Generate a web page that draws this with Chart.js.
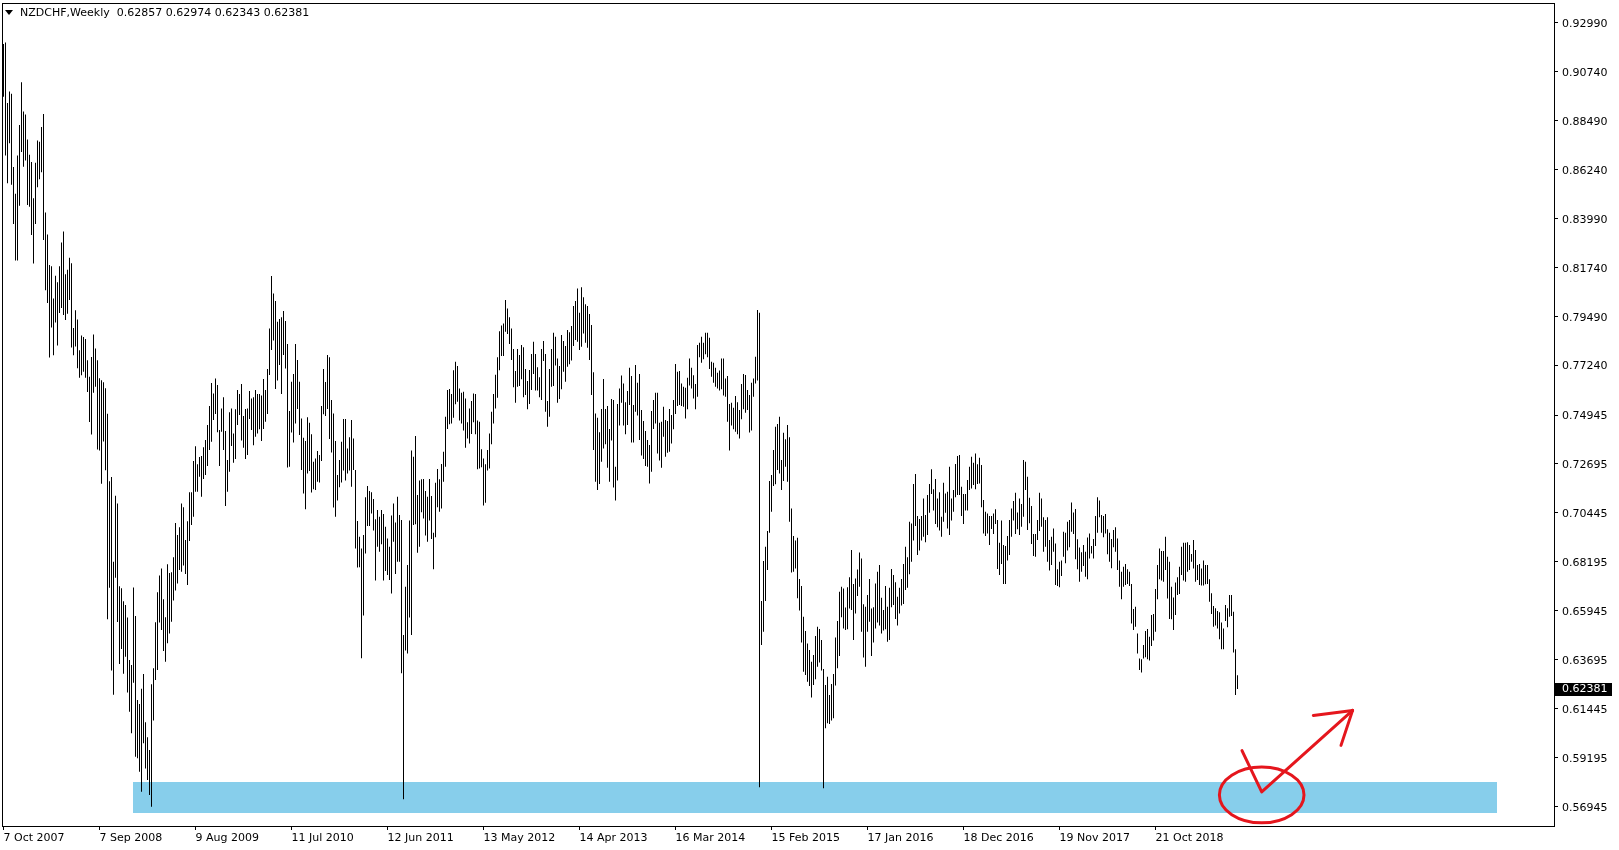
<!DOCTYPE html>
<html><head><meta charset="utf-8">
<script src="https://cdn.jsdelivr.net/npm/chart.js@4.4.1/dist/chart.umd.min.js"></script>
<style>html,body{margin:0;padding:0;background:#fff;}#c{display:block;}</style>
</head><body>
<canvas id="c" width="1619" height="850"></canvas>
<script>
const headerTitle = "NZDCHF,Weekly";
const lastBarOHLC = [0.62857, 0.62974, 0.62343, 0.62381];

const highs = [
0.9201,0.9208,0.8930,0.8983,0.8972,0.8635,0.8512,0.8688,0.8829,0.9025,
0.8891,0.8877,0.8762,0.8692,0.8658,0.8491,0.8655,0.8757,0.8752,0.8819,
0.8879,0.8426,0.8325,0.8184,0.8179,0.8031,0.8135,0.8105,0.8179,0.8288,
0.8339,0.8142,0.8163,0.8218,0.8193,0.7895,0.7976,0.7934,0.7793,0.7860,
0.7853,0.7844,0.7747,0.7671,0.7761,0.7865,0.7800,0.7747,0.7664,0.7655,
0.7645,0.7618,0.7500,0.7190,0.7209,0.6820,0.7123,0.7088,0.6707,0.6698,
0.6638,0.6621,0.6563,0.6368,0.6345,0.6701,0.6570,0.6184,0.6165,0.6235,
0.6303,0.6081,0.6012,0.5954,0.6256,0.6330,0.6541,0.6679,0.6757,0.6789,
0.6647,0.6564,0.6808,0.6768,0.6771,0.6840,0.6998,0.6943,0.6978,0.7088,
0.7070,0.6920,0.7006,0.7139,0.7139,0.7283,0.7351,0.7268,0.7301,0.7306,
0.7346,0.7380,0.7449,0.7536,0.7642,0.7594,0.7663,0.7633,0.7426,0.7525,
0.7576,0.7421,0.7288,0.7507,0.7525,0.7410,0.7521,0.7610,0.7591,0.7637,
0.7490,0.7522,0.7525,0.7605,0.7571,0.7576,0.7610,0.7591,0.7591,0.7584,
0.7660,0.7610,0.7706,0.7893,0.8134,0.8054,0.8019,0.7924,0.7936,0.7944,
0.7973,0.7927,0.7821,0.7513,0.7648,0.7683,0.7821,0.7748,0.7648,0.7479,
0.7390,0.7375,0.7484,0.7459,0.7406,0.7280,0.7295,0.7329,0.7311,0.7536,
0.7706,0.7646,0.7771,0.7760,0.7564,0.7502,0.7375,0.7219,0.7288,0.7372,
0.7476,0.7476,0.7341,0.7392,0.7472,0.7387,0.7242,0.7007,0.6935,0.6881,
0.6943,0.7116,0.7168,0.7145,0.7139,0.7108,0.7015,0.7058,0.7027,0.7058,
0.7039,0.6981,0.6927,0.6889,0.7032,0.7088,0.7000,0.7119,0.7035,0.7012,
0.6483,0.6705,0.6805,0.7009,0.7331,0.7303,0.7398,0.7127,0.7193,0.7199,
0.7200,0.7145,0.7119,0.7200,0.7122,0.6953,0.7183,0.7246,0.7199,0.7269,
0.7326,0.7487,0.7610,0.7614,0.7591,0.7700,0.7740,0.7720,0.7617,0.7597,
0.7602,0.7571,0.7461,0.7525,0.7559,0.7594,0.7591,0.7469,0.7464,0.7337,
0.7295,0.7268,0.7334,0.7410,0.7510,0.7591,0.7680,0.7760,0.7880,0.7906,
0.7916,0.8024,0.7985,0.7944,0.7893,0.7798,0.7697,0.7798,0.7771,0.7817,
0.7806,0.7706,0.7651,0.7702,0.7775,0.7832,0.7775,0.7714,0.7668,0.7798,
0.7835,0.7775,0.7559,0.7706,0.7798,0.7873,0.7855,0.7755,0.7720,0.7863,
0.7835,0.7812,0.7886,0.7875,0.7904,0.7996,0.8019,0.8077,0.7965,0.8082,
0.8036,0.8004,0.7996,0.7959,0.7909,0.7691,0.7502,0.7482,0.7415,0.7522,
0.7660,0.7522,0.7536,0.7430,0.7568,0.7564,0.7257,0.7545,0.7617,0.7676,
0.7640,0.7553,0.7605,0.7712,0.7674,0.7541,0.7725,0.7643,0.7683,0.7518,
0.7467,0.7421,0.7380,0.7357,0.7513,0.7564,0.7597,0.7597,0.7459,0.7464,
0.7533,0.7472,0.7467,0.7522,0.7495,0.7564,0.7729,0.7694,0.7697,0.7640,
0.7625,0.7620,0.7666,0.7755,0.7712,0.7678,0.7637,0.7817,0.7827,0.7855,
0.7827,0.7873,0.7873,0.7850,0.7740,0.7735,0.7712,0.7689,0.7699,0.7755,
0.7755,0.7663,0.7674,0.7545,0.7551,0.7528,0.7582,0.7553,0.7518,0.7637,
0.7683,0.7679,0.7610,0.7587,0.7643,0.7663,0.7763,0.7978,0.7965,0.6639,
0.6823,0.6889,0.6961,0.7191,0.7219,0.7334,0.7441,0.7453,0.7487,0.7288,
0.7413,0.7383,0.7449,0.7392,0.7065,0.6938,0.6917,0.6930,0.6740,0.6708,
0.6567,0.6501,0.6444,0.6414,0.6360,0.6391,0.6478,0.6521,0.6510,0.6460,
0.6326,0.6253,0.6291,0.6207,0.6257,0.6303,0.6471,0.6547,0.6682,0.6705,
0.6697,0.6609,0.6702,0.6748,0.6874,0.6717,0.6743,0.6784,0.6862,0.6835,
0.6624,0.6613,0.6667,0.6740,0.6605,0.6610,0.6720,0.6774,0.6805,0.6654,
0.6598,0.6708,0.6613,0.6700,0.6786,0.6759,0.6725,0.6659,0.6700,0.6740,
0.6809,0.6889,0.6840,0.7004,0.6996,0.7177,0.7223,0.7030,0.7016,0.7030,
0.7111,0.7035,0.7127,0.7177,0.7245,0.7153,0.7200,0.7111,0.7139,0.7027,
0.7183,0.7134,0.7142,0.7257,0.7111,0.7150,0.7269,0.7306,0.7311,0.7165,
0.7131,0.7131,0.7196,0.7257,0.7303,0.7275,0.7318,0.7268,0.7298,0.7265,
0.7104,0.7050,0.7042,0.7030,0.7030,0.7042,0.7061,0.7012,0.6907,0.7009,
0.6897,0.6892,0.6938,0.7012,0.7065,0.7099,0.7137,0.7046,0.7111,0.7085,
0.7288,0.7280,0.7211,0.7114,0.7076,0.6947,0.6947,0.7012,0.7137,0.7111,
0.7024,0.7012,0.7024,0.6920,0.6935,0.6973,0.6904,0.6785,0.6820,0.6825,
0.6958,0.6953,0.7004,0.7012,0.7092,0.7046,0.7062,0.6923,0.6885,0.6863,
0.6897,0.6866,0.6931,0.6950,0.6892,0.6924,0.7030,0.7116,0.7101,0.7035,
0.7030,0.7039,0.6969,0.6953,0.6924,0.6966,0.6978,0.6927,0.6825,0.6774,
0.6797,0.6809,0.6785,0.6774,0.6717,0.6602,0.6613,0.6490,0.6375,0.6371,
0.6437,0.6501,0.6510,0.6475,0.6575,0.6579,0.6694,0.6805,0.6881,0.6869,
0.6869,0.6935,0.6843,0.6820,0.6705,0.6655,0.6724,0.6748,0.6797,0.6889,
0.6907,0.6907,0.6909,0.6897,0.6855,0.6920,0.6874,0.6805,0.6809,0.6789,
0.6825,0.6805,0.6805,0.6739,0.6675,0.6616,0.6606,0.6593,0.6587,0.6540,
0.6513,0.6621,0.6606,0.6667,0.6667,0.6590,0.6417,0.62974
];

const lows = [
0.8958,0.8688,0.8561,0.8745,0.8554,0.8373,0.8205,0.8205,0.8457,0.8704,
0.8637,0.8665,0.8461,0.8452,0.8323,0.8191,0.8373,0.8542,0.8579,0.8611,
0.8299,0.8068,0.8010,0.7759,0.7897,0.7770,0.7920,0.7814,0.7964,0.7987,
0.7955,0.7932,0.7960,0.8024,0.7805,0.7770,0.7810,0.7710,0.7666,0.7678,
0.7694,0.7666,0.7601,0.7463,0.7405,0.7597,0.7625,0.7336,0.7331,0.7179,
0.7373,0.7241,0.6555,0.6700,0.6319,0.6208,0.6746,0.6543,0.6349,0.6418,
0.6305,0.6383,0.6218,0.6130,0.6031,0.6263,0.5923,0.5916,0.5854,0.5762,
0.5985,0.5869,0.5816,0.5747,0.5693,0.6089,0.6276,0.6322,0.6540,0.6506,
0.6409,0.6360,0.6445,0.6490,0.6544,0.6641,0.6687,0.6720,0.6782,0.6774,
0.6802,0.6763,0.6713,0.6915,0.6989,0.7027,0.7142,0.7142,0.7211,0.7119,
0.7200,0.7219,0.7260,0.7334,0.7372,0.7472,0.7499,0.7415,0.7260,0.7418,
0.7334,0.7076,0.7142,0.7234,0.7352,0.7275,0.7292,0.7449,0.7495,0.7377,
0.7344,0.7292,0.7311,0.7476,0.7426,0.7355,0.7395,0.7410,0.7429,0.7375,
0.7430,0.7464,0.7499,0.7679,0.7794,0.7837,0.7614,0.7653,0.7725,0.7591,
0.7771,0.7709,0.7253,0.7257,0.7414,0.7368,0.7456,0.7522,0.7403,0.7242,
0.7134,0.7061,0.7226,0.7237,0.7138,0.7153,0.7150,0.7188,0.7184,0.7283,
0.7498,0.7490,0.7522,0.7384,0.7322,0.7069,0.7027,0.7101,0.7162,0.7184,
0.7239,0.7193,0.7226,0.7239,0.7165,0.7242,0.6881,0.6793,0.6794,0.6376,
0.6572,0.6858,0.6984,0.6984,0.7042,0.6963,0.6733,0.6889,0.6866,0.6900,
0.6733,0.6777,0.6759,0.6736,0.6674,0.6912,0.6763,0.6820,0.6820,0.6307,
0.5727,0.6411,0.6398,0.6563,0.6483,0.6989,0.6992,0.6861,0.6889,0.7047,
0.7019,0.6940,0.6912,0.7009,0.6924,0.6785,0.6932,0.7070,0.7050,0.7065,
0.7188,0.7257,0.7430,0.7452,0.7456,0.7482,0.7544,0.7556,0.7469,0.7456,
0.7423,0.7344,0.7387,0.7364,0.7407,0.7461,0.7406,0.7245,0.7249,0.7254,
0.7078,0.7091,0.7239,0.7249,0.7360,0.7456,0.7525,0.7574,0.7700,0.7766,
0.7766,0.7878,0.7867,0.7821,0.7748,0.7622,0.7551,0.7625,0.7628,0.7659,
0.7576,0.7587,0.7521,0.7545,0.7610,0.7683,0.7607,0.7607,0.7576,0.7564,
0.7743,0.7510,0.7441,0.7487,0.7625,0.7628,0.7722,0.7551,0.7568,0.7613,
0.7694,0.7648,0.7717,0.7728,0.7745,0.7812,0.7840,0.7832,0.7794,0.7809,
0.7870,0.7827,0.7804,0.7748,0.7587,0.7334,0.7188,0.7150,0.7177,0.7280,
0.7341,0.7360,0.7252,0.7188,0.7377,0.7161,0.7101,0.7193,0.7446,0.7551,
0.7446,0.7406,0.7449,0.7541,0.7368,0.7368,0.7510,0.7492,0.7380,0.7308,
0.7292,0.7260,0.7257,0.7180,0.7234,0.7430,0.7456,0.7318,0.7285,0.7252,
0.7395,0.7303,0.7321,0.7326,0.7364,0.7429,0.7499,0.7536,0.7541,0.7536,
0.7533,0.7479,0.7521,0.7630,0.7617,0.7571,0.7521,0.7579,0.7760,0.7735,
0.7751,0.7774,0.7760,0.7706,0.7671,0.7643,0.7625,0.7617,0.7607,0.7613,
0.7584,0.7579,0.7464,0.7331,0.7446,0.7429,0.7418,0.7406,0.7387,0.7475,
0.7521,0.7505,0.7518,0.7414,0.7423,0.7579,0.7640,0.7653,0.5782,0.6437,
0.6498,0.6639,0.6782,0.6953,0.7050,0.7168,0.7176,0.7242,0.7226,0.7150,
0.7191,0.7257,0.7188,0.7004,0.6770,0.6774,0.6789,0.6652,0.6595,0.6448,
0.6314,0.6299,0.6268,0.6248,0.6195,0.6253,0.6279,0.6337,0.6356,0.6319,
0.5778,0.6054,0.6077,0.6074,0.6089,0.6100,0.6250,0.6330,0.6386,0.6564,
0.6513,0.6506,0.6509,0.6605,0.6598,0.6460,0.6582,0.6662,0.6705,0.6498,
0.6379,0.6337,0.6498,0.6544,0.6386,0.6448,0.6513,0.6540,0.6526,0.6490,
0.6503,0.6509,0.6452,0.6460,0.6610,0.6621,0.6556,0.6526,0.6582,0.6618,
0.6625,0.6690,0.6700,0.6762,0.6820,0.6917,0.6984,0.6851,0.6871,0.6917,
0.6935,0.6909,0.6943,0.7045,0.7131,0.7055,0.6993,0.6978,0.6963,0.6935,
0.7004,0.7045,0.6973,0.6943,0.7009,0.7050,0.7116,0.7127,0.7127,0.7030,
0.6993,0.7055,0.7055,0.7150,0.7157,0.7173,0.7153,0.7177,0.7180,0.7070,
0.6950,0.6938,0.6950,0.6897,0.6970,0.6947,0.6993,0.6786,0.6759,0.6809,
0.6717,0.6717,0.6825,0.6851,0.6935,0.7009,0.6947,0.6969,0.6943,0.6981,
0.7027,0.7150,0.6966,0.6997,0.6901,0.6846,0.6843,0.6920,0.6961,0.6981,
0.6866,0.6889,0.6820,0.6779,0.6805,0.6866,0.6713,0.6708,0.6702,0.6754,
0.6843,0.6813,0.6871,0.6886,0.6958,0.6947,0.6831,0.6785,0.6728,0.6774,
0.6800,0.6751,0.6739,0.6835,0.6858,0.6835,0.6892,0.6953,0.7024,0.6953,
0.6932,0.6950,0.6854,0.6820,0.6790,0.6886,0.6866,0.6782,0.6705,0.6647,
0.6705,0.6713,0.6717,0.6708,0.6536,0.6506,0.6521,0.6398,0.6322,0.6310,
0.6375,0.6380,0.6371,0.6365,0.6432,0.6457,0.6498,0.6647,0.6739,0.6733,
0.6728,0.6782,0.6651,0.6556,0.6555,0.6506,0.6575,0.6667,0.6671,0.6759,
0.6733,0.6728,0.6774,0.6782,0.6820,0.6789,0.6728,0.6736,0.6713,0.6710,
0.6710,0.6716,0.6717,0.6636,0.6579,0.6521,0.6526,0.6513,0.6463,0.6417,
0.6417,0.6547,0.6518,0.6567,0.6570,0.6402,0.6207,0.62343
];

const xTickIndices = [0,48,96,144,192,240,288,336,384,432,480,528,576];
const xTickLabels = ["7 Oct 2007","7 Sep 2008","9 Aug 2009","11 Jul 2010","12 Jun 2011","13 May 2012","14 Apr 2013","16 Mar 2014","15 Feb 2015","17 Jan 2016","18 Dec 2016","19 Nov 2017","21 Oct 2018"];
const yTickLabels = ["0.92990","0.90740","0.88490","0.86240","0.83990","0.81740","0.79490","0.77240","0.74945","0.72695","0.70445","0.68195","0.65945","0.63695","0.61445","0.59195","0.56945"];

// support zone (bar index range, price range)
const zoneX = [64.85, 746.8];
const zoneY = [0.5666, 0.58085];
// red ellipse: centre (bar index, price), radii (bars, price)
const ringCentre = [629.1, 0.5747];
const ringRadius = [21.15, 0.01283];
// red hand-drawn arrow: polyline then arrowhead arms from tip
const arrowLine = [[619.25, 0.5951], [629.1, 0.5761], [674.55, 0.6136]];
const arrowArms = [[654.9, 0.6113], [668.75, 0.5975]];

const FONT = "'DejaVu Sans', Verdana, sans-serif";
const bars = highs.map((h, i) => ({x: i, y: [lows[i], h]}));

const overlay = {
  id: 'overlay',
  beforeDraw(chart) {
    const c = chart.ctx;
    c.save(); c.fillStyle = '#fff'; c.fillRect(0, 0, chart.width, chart.height); c.restore();
  },
  beforeDatasetsDraw(chart) {
    const c = chart.ctx, xs = chart.scales.x, ys = chart.scales.y;
    const x0 = xs.getPixelForValue(zoneX[0]), x1 = xs.getPixelForValue(zoneX[1]);
    const y0 = ys.getPixelForValue(zoneY[1]), y1 = ys.getPixelForValue(zoneY[0]);
    c.save(); c.fillStyle = '#87CEEB'; c.fillRect(Math.round(x0), Math.round(y0), Math.round(x1 - x0), Math.round(y1 - y0)); c.restore();
  },
  afterDraw(chart) {
    const c = chart.ctx, xs = chart.scales.x, ys = chart.scales.y, a = chart.chartArea;
    c.save();
    // frame
    c.strokeStyle = '#000'; c.lineWidth = 1;
    c.strokeRect(Math.round(a.left) + 0.5, Math.round(a.top) + 0.5, Math.round(a.right - a.left), Math.round(a.bottom - a.top));
    // red annotations
    c.strokeStyle = '#e5161d'; c.lineWidth = 3; c.lineJoin = 'round'; c.lineCap = 'round';
    const cx = xs.getPixelForValue(ringCentre[0]), cy = ys.getPixelForValue(ringCentre[1]);
    const rx = Math.abs(xs.getPixelForValue(ringCentre[0] + ringRadius[0]) - cx);
    const ry = Math.abs(ys.getPixelForValue(ringCentre[1] + ringRadius[1]) - cy);
    c.beginPath(); c.ellipse(cx, cy, rx, ry, 0, 0, Math.PI * 2); c.stroke();
    c.beginPath();
    arrowLine.forEach((p, k) => { const px = xs.getPixelForValue(p[0]), py = ys.getPixelForValue(p[1]); k ? c.lineTo(px, py) : c.moveTo(px, py); });
    c.stroke();
    const tip = arrowLine[arrowLine.length - 1];
    const tx = xs.getPixelForValue(tip[0]), ty = ys.getPixelForValue(tip[1]);
    arrowArms.forEach(p => { c.beginPath(); c.moveTo(xs.getPixelForValue(p[0]), ys.getPixelForValue(p[1])); c.lineTo(tx, ty); c.stroke(); });
    // current price label
    const py = Math.round(ys.getPixelForValue(lastBarOHLC[3])) + 1;
    c.fillStyle = '#000'; c.fillRect(Math.round(a.right) + 1, py - 6, 57, 13);
    c.fillStyle = '#fff'; c.font = '11px ' + FONT; c.textBaseline = 'middle'; c.textAlign = 'left';
    c.fillText(lastBarOHLC[3].toFixed(5), Math.round(a.right) + 8, py + 0.5);
    // header
    c.fillStyle = '#000';
    c.beginPath(); c.moveTo(5, 10); c.lineTo(13, 10); c.lineTo(9, 15); c.closePath(); c.fill();
    c.fillText(headerTitle + '  ' + lastBarOHLC.map(v => v.toFixed(5)).join(' '), 20, 13);
    c.restore();
  }
};

new Chart(document.getElementById('c').getContext('2d'), {
  type: 'bar',
  data: { datasets: [{ data: bars, backgroundColor: '#000', borderWidth: 0, barThickness: 1, inflateAmount: 0, grouped: false }] },
  options: {
    responsive: false, animation: false, devicePixelRatio: 1,
    layout: { padding: { left: 2, top: 3, right: 0, bottom: 0 } },
    plugins: { legend: { display: false }, tooltip: { enabled: false } },
    scales: {
      x: {
        type: 'linear', min: -0.75, max: 775.25, offset: false,
        grid: { drawOnChartArea: false, drawTicks: true, tickLength: 4, color: '#000', offset: false },
        border: { display: true, color: '#000' },
        afterBuildTicks: s => { s.ticks = xTickIndices.map(v => ({ value: v })); },
        afterFit: s => { s.height = 24; s.paddingLeft = 0; s.paddingRight = 0; },
        ticks: { autoSkip: false, maxRotation: 0, minRotation: 0, align: 'start', padding: 2, color: '#000',
                 font: { family: FONT, size: 11 }, callback: (v, i) => xTickLabels[i] }
      },
      y: {
        type: 'linear', position: 'right', min: 0.56043, max: 0.93896,
        grid: { drawOnChartArea: false, drawTicks: true, tickLength: 4, color: '#000' },
        border: { display: true, color: '#000' },
        afterBuildTicks: s => { s.ticks = yTickLabels.map(t => ({ value: parseFloat(t) })); },
        afterFit: s => { s.width = 65; s.paddingTop = 0; s.paddingBottom = 0; },
        ticks: { autoSkip: false, padding: 4, labelOffset: 1.5, color: '#000', font: { family: FONT, size: 11 },
                 callback: (v, i) => yTickLabels[i] }
      }
    }
  },
  plugins: [overlay]
});
</script>
</body></html>
